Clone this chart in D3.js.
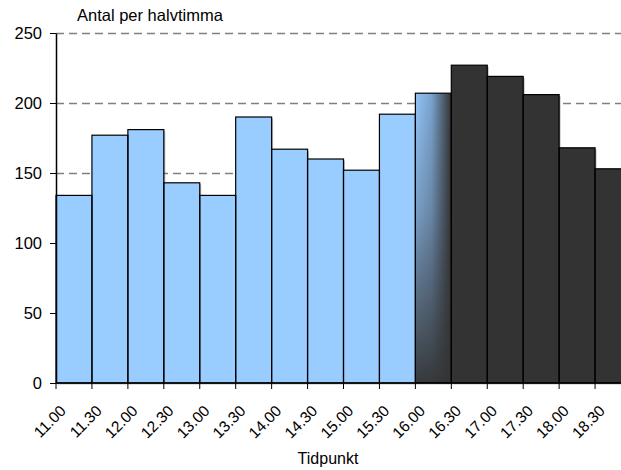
<!DOCTYPE html>
<html>
<head>
<meta charset="utf-8">
<script src="https://cdn.jsdelivr.net/npm/d3@7"></script>
<style>
  html, body { margin: 0; padding: 0; background: #fff; }
  svg { display: block; font-family: "Liberation Sans", Arial, sans-serif; }
</style>
</head>
<body>
<div id="chart"></div>
<script>
// Antal per halvtimma, 11.00 – 18.30
const times = ["11.00","11.30","12.00","12.30","13.00","13.30","14.00","14.30",
               "15.00","15.30","16.00","16.30","17.00","17.30","18.00","18.30"];
const counts = [134, 177, 181, 143, 134, 190, 167, 160, 152, 192, 207, 227, 219, 206, 168, 153];
// period each half hour belongs to: before, transition, after
const period = ["f","f","f","f","f","f","f","f","f","f","t","e","e","e","e","e"];
const yTicks = [0, 50, 100, 150, 200, 250];

const W = 621, H = 470;
const mLeft = 56, mRight = 631, mTop = 33, mBottom = 383;

const svg = d3.select("#chart").append("svg")
  .attr("width", W).attr("height", H);

const x = d3.scaleBand().domain(times).range([mLeft, mRight]).padding(0);
const y = d3.scaleLinear().domain([0, 250]).range([mBottom, mTop]);

const defs = svg.append("defs");
const gh = defs.append("linearGradient").attr("id", "gh")
  .attr("x1", "0").attr("x2", "1").attr("y1", "0").attr("y2", "0");
gh.append("stop").attr("offset", "0").attr("stop-color", "#93c4f6");
gh.append("stop").attr("offset", "0.45").attr("stop-color", "#7aa3cf");
gh.append("stop").attr("offset", "1").attr("stop-color", "#333333");
const gv = defs.append("linearGradient").attr("id", "gv")
  .attr("x1", "0").attr("x2", "0").attr("y1", "0").attr("y2", "1");
gv.append("stop").attr("offset", "0").attr("stop-color", "#333333").attr("stop-opacity", 0);
gv.append("stop").attr("offset", "0.4").attr("stop-color", "#333333").attr("stop-opacity", 0.25);
gv.append("stop").attr("offset", "1").attr("stop-color", "#333333").attr("stop-opacity", 0.95);

// dashed gridlines
svg.append("g").selectAll("line")
  .data(yTicks.filter(d => d > 0))
  .join("line")
  .attr("x1", mLeft).attr("x2", W)
  .attr("y1", d => Math.round(y(d)) + 0.5).attr("y2", d => Math.round(y(d)) + 0.5)
  .attr("stroke", "#808080").attr("stroke-width", 1.3)
  .attr("stroke-dasharray", "8,5");

const bars = svg.append("g");
const fillFor = p => p === "e" ? "#333333" : "#99ccff";

// soft shadow
bars.selectAll("rect.sh").data(times).join("rect")
  .attr("class", "sh")
  .attr("x", d => x(d) + 1.5).attr("y", (d, i) => y(counts[i]) + 1.5)
  .attr("width", x.bandwidth()).attr("height", (d, i) => mBottom - y(counts[i]))
  .attr("fill", "#000").attr("opacity", 0.25);

bars.selectAll("rect.b").data(times).join("rect")
  .attr("class", "b")
  .attr("x", d => x(d)).attr("y", (d, i) => y(counts[i]))
  .attr("width", x.bandwidth()).attr("height", (d, i) => mBottom - y(counts[i]))
  .attr("fill", (d, i) => period[i] === "t" ? "url(#gh)" : fillFor(period[i]));

bars.selectAll("rect.ov").data(times.filter((d, i) => period[i] === "t")).join("rect")
  .attr("class", "ov")
  .attr("x", d => x(d)).attr("y", d => y(counts[times.indexOf(d)]))
  .attr("width", x.bandwidth()).attr("height", d => mBottom - y(counts[times.indexOf(d)]))
  .attr("fill", "url(#gv)");

bars.selectAll("rect.o").data(times).join("rect")
  .attr("class", "o")
  .attr("x", d => x(d)).attr("y", (d, i) => y(counts[i]))
  .attr("width", x.bandwidth()).attr("height", (d, i) => mBottom - y(counts[i]))
  .attr("fill", "none").attr("stroke", "#000").attr("stroke-width", 1.2);

// y axis
const yAxis = svg.append("g").attr("transform", `translate(${mLeft},0)`)
  .call(d3.axisLeft(y).tickValues(yTicks).tickSize(6).tickPadding(8).tickSizeOuter(0));
yAxis.select(".domain").attr("stroke", "#000").attr("stroke-width", 1.5);
yAxis.selectAll(".tick line").attr("stroke", "#000");
yAxis.selectAll("text").attr("font-size", 16.5).attr("fill", "#000")
  .attr("font-family", "Liberation Sans, Arial, sans-serif");

// x axis, ticks at the start of each half hour
const xAxis = svg.append("g").attr("transform", `translate(0,${mBottom})`);
xAxis.append("line").attr("x1", mLeft).attr("x2", W).attr("y1", 0).attr("y2", 0)
  .attr("stroke", "#000").attr("stroke-width", 1.5);
xAxis.selectAll("line.t").data(times).join("line").attr("class", "t")
  .attr("x1", d => x(d)).attr("x2", d => x(d)).attr("y1", 0).attr("y2", 6)
  .attr("stroke", "#000");
xAxis.selectAll("text").data(times).join("text")
  .attr("transform", d => `translate(${x(d) + 7},${25}) rotate(-45)`)
  .attr("text-anchor", "end").attr("dy", "0.35em")
  .attr("font-size", 15.5).text(d => d);

svg.append("text").attr("x", 77).attr("y", 21).attr("font-size", 16.5).text("Antal per halvtimma");
svg.append("text").attr("x", 328).attr("y", 464).attr("text-anchor", "middle")
  .attr("font-size", 16).text("Tidpunkt");
</script>
</body>
</html>
